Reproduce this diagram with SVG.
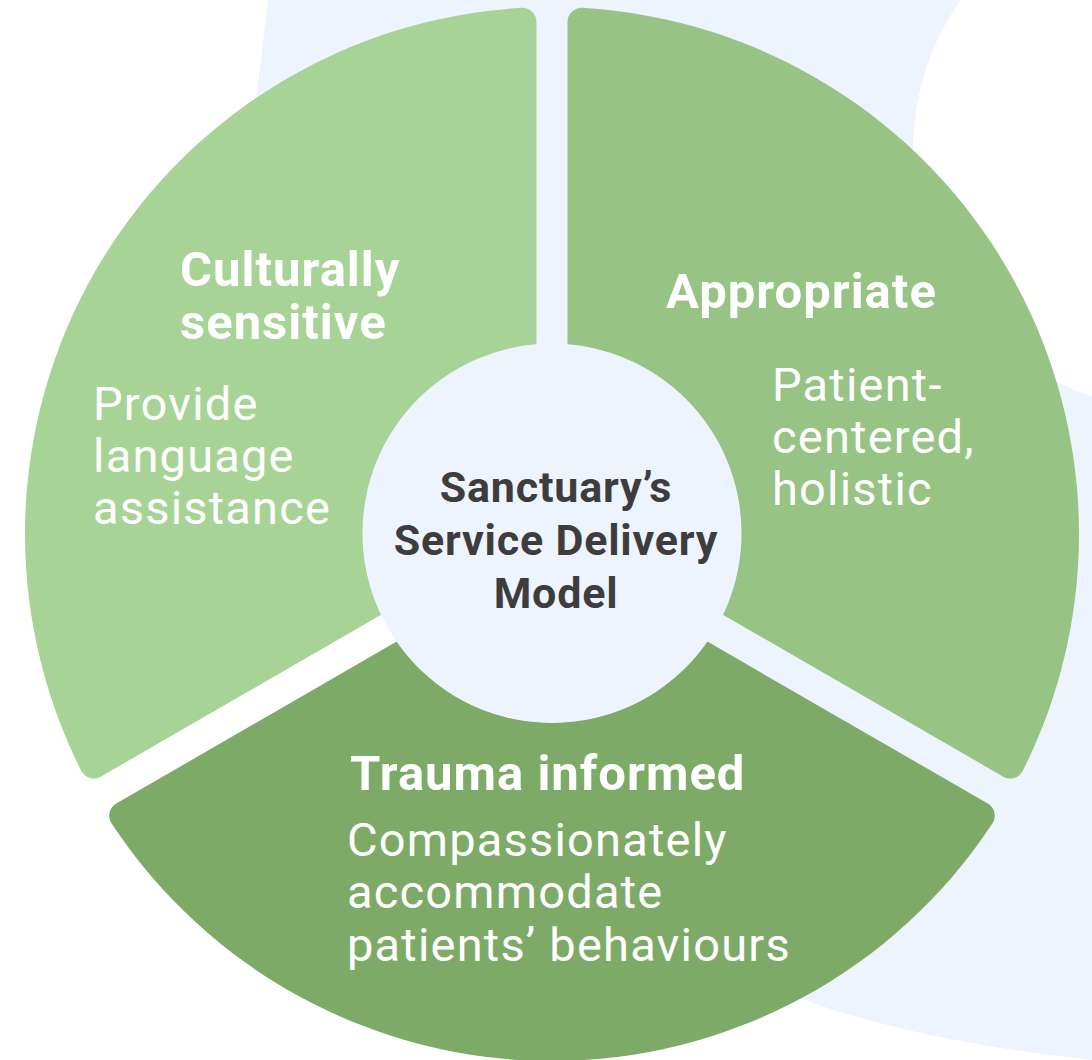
<svg xmlns="http://www.w3.org/2000/svg" width="1092" height="1060" viewBox="0 0 1092 1060">
  <style>
    .title { font-family: Roboto, "Liberation Sans", sans-serif; font-weight: 700; font-size: 49px; letter-spacing: 1px; fill: #ffffff; }
    .body { font-family: Roboto, "Liberation Sans", sans-serif; font-weight: 400; font-size: 47px; letter-spacing: 1.2px; fill: #ffffff; }
    .hub { font-family: Roboto, "Liberation Sans", sans-serif; font-weight: 700; font-size: 43px; letter-spacing: 0.8px; fill: #3d3d3d; text-anchor: middle; }
  </style>

  <!-- backdrop: white page with a pale blue sweep and a white round cut at top right -->
  <g id="backdrop">
    <rect x="0" y="0" width="1092" height="1060" fill="#ffffff"/>
    <path d="M268,0 L1092,0 L1092,1060 C980,1048 860,1025 780,990 L450,640 L255,110 Z" fill="#eef4fe"/>
    <circle cx="1172" cy="150" r="259" fill="#ffffff"/>
  </g>

  <!-- left segment -->
  <g id="seg-cultural">
    <path d="M536.5,345.6 L536.5,21.85 A14,14 0 0 0 521.69,7.87 A527,527 0 0 0 81.22,770.82 A14,14 0 0 0 100.73,776.66 L381.13,614.76 A189,189 0 0 1 536.5,345.6 Z" fill="#a8d396"/>
    <text class="title" x="180" y="286">Culturally</text>
    <text class="title" x="180" y="339">sensitive</text>
    <text class="body" x="93" y="420">Provide</text>
    <text class="body" x="93" y="472">language</text>
    <text class="body" x="93" y="524">assistance</text>
  </g>

  <!-- right segment -->
  <g id="seg-appropriate">
    <path d="M567.5,345.6 L567.5,21.85 A14,14 0 0 1 582.31,7.87 A527,527 0 0 1 1022.78,770.82 A14,14 0 0 1 1003.27,776.66 L722.87,614.76 A189,189 0 0 0 567.5,345.6 Z" fill="#97c384"/>
    <text class="title" x="666" y="308">Appropriate</text>
    <text class="body" x="772" y="401">Patient-</text>
    <text class="body" x="772" y="453">centered,</text>
    <text class="body" x="772" y="505">holistic</text>
  </g>

  <!-- bottom segment -->
  <g id="seg-trauma">
    <path d="M396.63,641.6 L116.23,803.5 A14,14 0 0 0 111.53,823.32 A527,527 0 0 0 992.47,823.32 A14,14 0 0 0 987.77,803.5 L707.37,641.6 A189,189 0 0 1 396.63,641.6 Z" fill="#7dab67"/>
    <text class="title" x="350" y="790">Trauma informed</text>
    <text class="body" x="347" y="856">Compassionately</text>
    <text class="body" x="347" y="908">accommodate</text>
    <text class="body" x="347" y="961">patients’ behaviours</text>
  </g>

  <!-- hub -->
  <g id="hub">
    <circle cx="552" cy="533" r="189.5" fill="#eef4fe"/>
    <text class="hub" x="556" y="502">Sanctuary’s</text>
    <text class="hub" x="556" y="555">Service Delivery</text>
    <text class="hub" x="556" y="608">Model</text>
  </g>
</svg>
